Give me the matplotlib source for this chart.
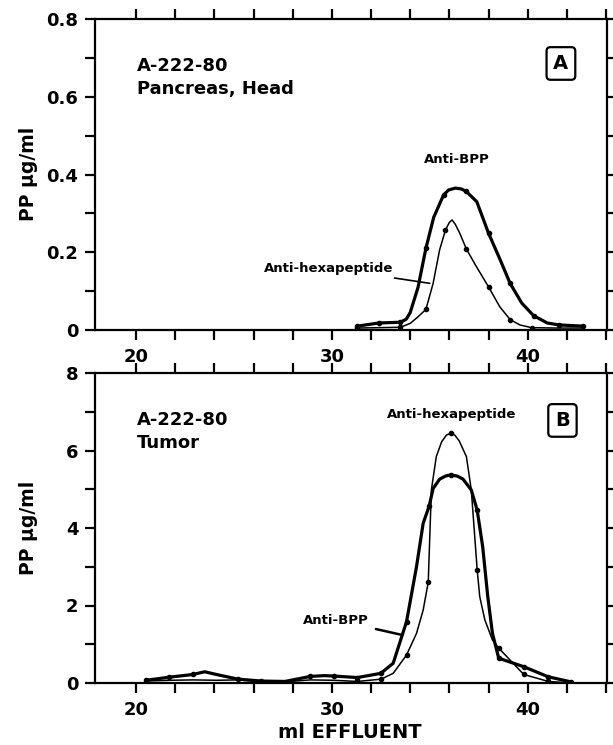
import numpy as np
import matplotlib
matplotlib.use("Agg")
import matplotlib.pyplot as plt
from matplotlib.ticker import FixedLocator, FuncFormatter

plt.rcParams['font.family'] = ['DejaVu Sans']
plt.rcParams['font.weight'] = 'bold'

# ---- panel A : pancreas head ----
a_bpp_x = [31.3, 32.4, 33.5, 33.8, 34.0, 34.4, 34.8, 35.2, 35.7, 35.95, 36.3, 36.6, 36.85,
           37.4, 38.0, 38.6, 39.1, 39.7, 40.3, 41.0, 41.6, 42.8]
a_bpp_y = [0.010, 0.018, 0.020, 0.028, 0.045, 0.11, 0.21, 0.29, 0.347, 0.360, 0.365, 0.363,
           0.357, 0.33, 0.249, 0.18, 0.12, 0.069, 0.037, 0.018, 0.013, 0.010]
a_bpp_pts_x = [31.3, 32.4, 33.5, 34.8, 35.7, 36.85, 38.0, 39.1, 40.3, 41.6, 42.8]
a_bpp_pts_y = [0.010, 0.018, 0.020, 0.21, 0.347, 0.357, 0.249, 0.12, 0.037, 0.013, 0.010]

a_hex_x = [31.3, 32.4, 33.5, 34.0, 34.4, 34.8, 35.17, 35.5, 35.8, 36.0, 36.14, 36.3, 36.53,
           36.87, 37.38, 38.0, 38.57, 39.1, 39.6, 40.2, 41.5, 42.8]
a_hex_y = [0.005, 0.006, 0.007, 0.017, 0.034, 0.053, 0.12, 0.206, 0.257, 0.277, 0.283, 0.272,
           0.249, 0.208, 0.163, 0.111, 0.06, 0.027, 0.013, 0.006, 0.005, 0.005]
a_hex_pts_x = [31.3, 33.5, 34.8, 35.8, 36.87, 38.0, 39.1, 40.2]
a_hex_pts_y = [0.005, 0.007, 0.053, 0.257, 0.208, 0.111, 0.027, 0.006]

# ---- panel B : tumor ----
b_bpp_x = [20.5, 21.7, 22.9, 23.5, 24.1, 25.2, 26.4, 27.6, 28.9, 29.6, 30.1, 31.3, 32.5,
           33.13, 33.81, 34.32, 34.66, 34.97, 35.17, 35.5, 35.8, 36.06, 36.4, 36.7, 37.12,
           37.42, 37.7, 37.96, 38.2, 38.52, 39.8, 41.05, 42.2]
b_bpp_y = [0.07, 0.15, 0.22, 0.29, 0.22, 0.10, 0.05, 0.04, 0.17, 0.19, 0.18, 0.14, 0.25,
           0.51, 1.58, 3.0, 4.12, 4.57, 5.02, 5.26, 5.34, 5.37, 5.34, 5.26, 4.98,
           4.46, 3.52, 2.23, 1.28, 0.64, 0.42, 0.16, 0.03]
b_bpp_pts_x = [20.5, 21.7, 22.9, 25.2, 26.4, 28.9, 30.1, 31.3, 32.5, 33.81, 34.97, 36.06,
               37.42, 38.52, 39.8, 41.05, 42.2]
b_bpp_pts_y = [0.07, 0.15, 0.22, 0.10, 0.05, 0.17, 0.18, 0.14, 0.25, 1.58, 4.57, 5.37,
               4.46, 0.64, 0.42, 0.16, 0.03]

b_hex_x = [20.5, 21.7, 22.9, 24.1, 25.2, 26.4, 27.6, 28.9, 30.1, 31.3, 32.52, 33.13,
           33.81, 34.32, 34.66, 34.92, 35.08, 35.33, 35.6, 35.85, 36.06, 36.27, 36.5,
           36.87, 37.12, 37.42, 37.55, 37.81, 38.2, 38.52, 39.8, 41.05, 42.2]
b_hex_y = [0.05, 0.07, 0.08, 0.07, 0.08, 0.04, 0.03, 0.08, 0.07, 0.04, 0.10, 0.25,
           0.72, 1.28, 1.88, 2.60, 4.98, 5.84, 6.22, 6.40, 6.44, 6.40, 6.25,
           5.84, 4.98, 2.92, 2.23, 1.63, 1.11, 0.90, 0.22, 0.04, 0.0]
b_hex_pts_x = [31.3, 32.52, 33.81, 34.92, 36.06, 37.42, 38.52, 39.8, 41.05, 42.2]
b_hex_pts_y = [0.04, 0.10, 0.72, 2.60, 6.44, 2.92, 0.90, 0.22, 0.04, 0.0]

x_ticks = np.arange(20, 45, 2)
x_labels = [20, 30, 40]
a_yticks = np.arange(0, 0.81, 0.1)
b_yticks = np.arange(0, 8.1, 1)

fig = plt.figure(figsize=(6.13, 7.45), dpi=100)
ax1 = fig.add_axes([95/613, 1 - 330/745, 512/613, 311/745])
ax2 = fig.add_axes([95/613, 1 - 683/745, 512/613, 310/745])


def style_axes(ax, yticks, ylim, yfmt):
	ax.set_xlim(17.9, 44.05)
	ax.set_ylim(*ylim)
	for s in ax.spines.values():
		s.set_linewidth(1.6)
	ax.xaxis.set_major_locator(FixedLocator(x_ticks))
	ax.xaxis.set_major_formatter(FuncFormatter(
		lambda v, p: "%d" % round(v) if round(v) in x_labels else ""))
	ax.yaxis.set_major_locator(FixedLocator(yticks))
	ax.yaxis.set_major_formatter(FuncFormatter(yfmt))
	ax.tick_params(direction='out', length=7, width=1.6, top=True, right=True,
				   labelsize=13, pad=5)
	ax.tick_params(axis='x', pad=6)


def fmt_a(v, p):
	k = int(round(v * 10))
	if k % 2:
		return ""
	return "0" if k == 0 else "%.1f" % v


def fmt_b(v, p):
	k = int(round(v))
	return "" if k % 2 else "%d" % k


style_axes(ax1, a_yticks, (0, 0.8), fmt_a)
style_axes(ax2, b_yticks, (0, 8), fmt_b)

# curves
ax1.plot(a_bpp_x, a_bpp_y, color='black', lw=2.3, solid_capstyle='round', solid_joinstyle='round')
ax1.plot(a_hex_x, a_hex_y, color='black', lw=1.1)
ax1.plot(a_bpp_pts_x, a_bpp_pts_y, 'o', color='black', markersize=3)
ax1.plot(a_hex_pts_x, a_hex_pts_y, 'o', color='black', markersize=3)

ax2.plot(b_bpp_x, b_bpp_y, color='black', lw=2.3, solid_capstyle='round', solid_joinstyle='round')
ax2.plot(b_hex_x, b_hex_y, color='black', lw=1.1)
ax2.plot(b_bpp_pts_x, b_bpp_pts_y, 'o', color='black', markersize=3)
ax2.plot(b_hex_pts_x, b_hex_pts_y, 'o', color='black', markersize=3)

# panel texts
ax1.text(0.082, 0.849, "A-222-80", transform=ax1.transAxes, fontsize=13, va='center')
ax1.text(0.082, 0.775, "Pancreas, Head", transform=ax1.transAxes, fontsize=13, va='center')
ax2.text(0.082, 0.848, "A-222-80", transform=ax2.transAxes, fontsize=13, va='center')
ax2.text(0.082, 0.774, "Tumor", transform=ax2.transAxes, fontsize=13, va='center')

box = dict(boxstyle='round,pad=0.35,rounding_size=0.2', fc='white', ec='black', lw=1.6)
ax1.text(0.910, 0.857, "A", transform=ax1.transAxes, fontsize=14, ha='center', va='center', bbox=box)
ax2.text(0.913, 0.847, "B", transform=ax2.transAxes, fontsize=14, ha='center', va='center', bbox=box)

ax1.text(0.706, 0.549, "Anti-BPP", transform=ax1.transAxes, fontsize=9.5, ha='center', va='center')
ax1.annotate("Anti-hexapeptide", xy=(35.0, 0.12), xytext=(0.457, 0.199),
			 textcoords='axes fraction', fontsize=9.5, ha='center', va='center',
			 arrowprops=dict(arrowstyle='-', lw=1.2, color='black', shrinkA=3, shrinkB=0))

ax2.text(0.697, 0.865, "Anti-hexapeptide", transform=ax2.transAxes, fontsize=9.5,
		 ha='center', va='center')
ax2.annotate("Anti-BPP", xy=(33.5, 1.25), xytext=(0.471, 0.203),
			 textcoords='axes fraction', fontsize=9.5, ha='center', va='center',
			 arrowprops=dict(arrowstyle='-', lw=1.8, color='black', shrinkA=3, shrinkB=0))

fig.text(28/613, 1 - 174/745, "PP \u03bcg/ml", rotation=90, fontsize=13.5, ha='center', va='center')
fig.text(28/613, 1 - 528/745, "PP \u03bcg/ml", rotation=90, fontsize=13.5, ha='center', va='center')
fig.text(350/613, 1 - 733/745, "ml EFFLUENT", fontsize=14, ha='center', va='center')

fig.savefig("out.png", dpi=100)
